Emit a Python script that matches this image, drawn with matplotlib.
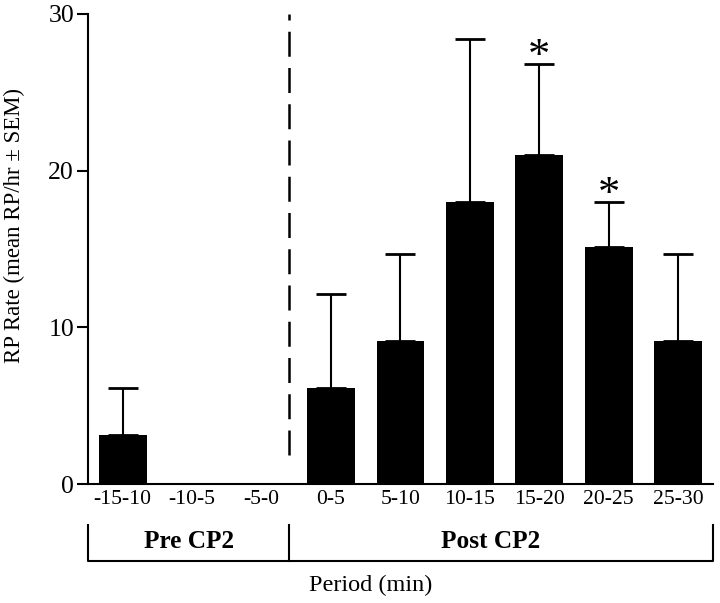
import numpy as np
import matplotlib.pyplot as plt
from matplotlib.transforms import blended_transform_factory

# Data
periods = ["-15-10", "-10-5", "-5-0", "0-5", "5-10", "10-15", "15-20", "20-25", "25-30"]
rate_mean = [3.1, 0.0, 0.0, 6.1, 9.1, 18.0, 21.0, 15.1, 9.1]
rate_sem = [3.0, 0.0, 0.0, 6.0, 5.6, 10.4, 5.8, 2.9, 5.6]
significant = ["15-20", "20-25"]

plt.rcParams["font.family"] = ["Liberation Serif", "DejaVu Serif"]

fig = plt.figure(figsize=(7.2, 6.03), dpi=100)
ax = fig.add_axes([0.1222, 0.1973, 0.8680, 0.7795])

x = np.arange(len(periods))
has_err = [s > 0 for s in rate_sem]
ax.bar(x, rate_mean, width=0.69, color="black", zorder=2)
ax.errorbar(x[has_err], np.array(rate_mean)[has_err],
            yerr=[np.zeros(sum(has_err)), np.array(rate_sem)[has_err]],
            fmt="none", ecolor="black", elinewidth=1.5, capsize=11,
            capthick=2, zorder=1)

# significance stars above the error bars
for lab in significant:
    i = periods.index(lab)
    ax.annotate("*", (i, rate_mean[i] + rate_sem[i]), xytext=(0, -9),
                textcoords="offset points", ha="center", va="bottom",
                fontsize=32)

# dashed separator between pre and post
ax.plot([2.4, 2.4], [1.85, 30], color="black", lw=1.8,
        linestyle=(0, (10, 4.5)), clip_on=False)

ax.set_xlim(-0.5, 8.5)
ax.set_ylim(0, 30)
ax.set_yticks([0, 10, 20, 30])
ax.set_xticks(x)
ax.set_xticklabels(periods)
ax.tick_params(axis="x", length=0, pad=4, labelsize=15.6)
ax.tick_params(axis="y", length=8, width=1.5, pad=2, labelsize=18.5)

for side in ["top", "right"]:
    ax.spines[side].set_visible(False)
for side in ["left", "bottom"]:
    ax.spines[side].set_linewidth(1.5)

ax.set_ylabel("RP Rate (mean RP/hr \u00b1 SEM)", fontsize=16.4)
ax.yaxis.set_label_coords(-0.10, 0.551)

# Pre / Post bracket under the axis
trans = blended_transform_factory(ax.transData, ax.transAxes)
y_top, y_bot = -0.087, -0.164
ax.plot([-0.5, -0.5, 8.5, 8.5], [y_top, y_bot, y_bot, y_top],
        color="black", lw=1.5, transform=trans, clip_on=False)
ax.plot([2.4, 2.4], [y_top, y_bot], color="black", lw=1.5,
        transform=trans, clip_on=False)
ax.text(0.95, -0.123, "Pre CP2", transform=trans, ha="center", va="center",
        fontsize=18.2, fontweight="bold")
ax.text(5.3, -0.123, "Post CP2", transform=trans, ha="center", va="center",
        fontsize=18.2, fontweight="bold")

ax.text(0.453, -0.215, "Period (min)", transform=ax.transAxes,
        ha="center", va="center", fontsize=17.5)

fig.savefig("out.png", dpi=100)
